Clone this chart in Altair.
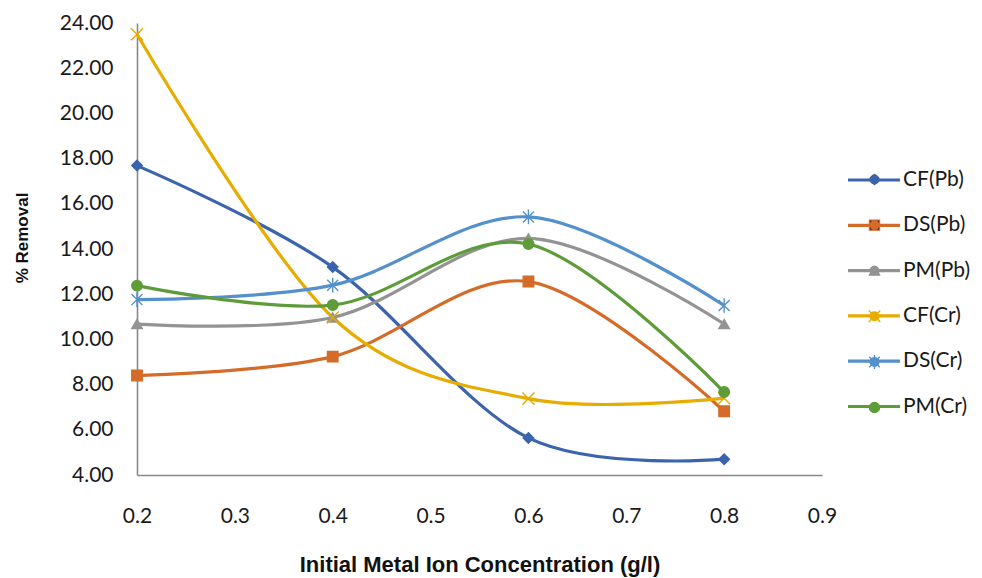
import altair as alt
import pandas as pd

x_vals = [0.2, 0.4, 0.6, 0.8]
series_names = ["CF(Pb)", "DS(Pb)", "PM(Pb)", "CF(Cr)", "DS(Cr)", "PM(Cr)"]
cf_pb = [17.69, 13.2, 5.64, 4.7]
ds_pb = [8.4, 9.24, 12.56, 6.82]
pm_pb = [10.68, 10.97, 14.47, 10.68]
cf_cr = [23.5, 10.97, 7.38, 7.4]
ds_cr = [11.76, 12.4, 15.42, 11.5]
pm_cr = [12.38, 11.52, 14.22, 7.67]
series_values = [cf_pb, ds_pb, pm_pb, cf_cr, ds_cr, pm_cr]

colors = ["#3B64AD", "#D46B29", "#939393", "#E6AC00", "#5390CC", "#5E9C3A"]
shapes = [
    "diamond",
    "square",
    "triangle-up",
    "M-1.15,-1.15L1.15,1.15M-1.15,1.15L1.15,-1.15",
    "M-1.05,-1.05L1.05,1.05M-1.05,1.05L1.05,-1.05M0,-1.4L0,1.4",
    "circle",
]
x_ticks = [0.2, 0.3, 0.4, 0.5, 0.6, 0.7, 0.8, 0.9]
y_ticks = [4, 6, 8, 10, 12, 14, 16, 18, 20, 22, 24]

rows = []
for name, vals in zip(series_names, series_values):
    for xv, yv in zip(x_vals, vals):
        rows.append({"series": name, "conc": xv, "removal": yv})
df = pd.DataFrame(rows)

FONT = "Lato"
TITLE_FONT = "Liberation Sans"

x_enc = alt.X(
    "conc:Q",
    scale=alt.Scale(domain=[0.2, 0.9], nice=False, zero=False),
    axis=alt.Axis(
        values=x_ticks, format=".1f", labelFlush=False,
        title="Initial Metal Ion Concentration (g/l)",
        titleY=89, titleBaseline="middle", titleFontSize=22,
        labelPadding=30,
    ),
)
y_enc = alt.Y(
    "removal:Q",
    scale=alt.Scale(domain=[4, 24], nice=False, zero=False),
    axis=alt.Axis(
        values=y_ticks, format=".2f", title="% Removal", labelFlush=False,
        titleX=-115, titleY=214.5, titleBaseline="middle", titleFontSize=17,
        labelPadding=24,
    ),
)

color_scale = alt.Scale(domain=series_names, range=colors)

lines = alt.Chart(df).mark_line(interpolate="cardinal", strokeWidth=3.2).encode(
    x=x_enc,
    y=y_enc,
    color=alt.Color(
        "series:N", scale=color_scale, sort=series_names,
        legend=alt.Legend(
            title=None, orient="none", legendX=709, legendY=129,
            symbolType="stroke", symbolSize=2704, symbolStrokeWidth=3.2,
            labelFont=FONT, labelFontSize=21, labelColor="#1a1a1a",
            labelOffset=1, rowPadding=7.3, padding=0,
        ),
    ),
)

leg_b = alt.Legend(
    title=None, orient="none", legendX=709, legendY=146,
    symbolOffset=18, labelExpr="' '", labelOpacity=0,
    labelFont=FONT, labelFontSize=21, labelOffset=1,
    rowPadding=23.6, padding=0, symbolStrokeWidth=1.4,
)

points = alt.Chart(df).mark_point(filled=True, size=110, strokeWidth=1.4, opacity=1).encode(
    x=x_enc,
    y=y_enc,
    color=alt.Color("series:N", scale=color_scale, sort=series_names, legend=leg_b),
    stroke=alt.Stroke("series:N", scale=color_scale, sort=series_names, legend=leg_b),
    shape=alt.Shape("series:N", scale=alt.Scale(domain=series_names, range=shapes),
                    sort=series_names, legend=leg_b),
)

chart = alt.layer(lines, points).resolve_scale(color="independent").properties(
    width=685, height=452,
    padding={"left": 137, "top": 23, "right": 160, "bottom": 103},
    autosize="none",
).configure_view(strokeWidth=0).configure_axis(
    grid=False, ticks=False,
    domainColor="#898989", domainWidth=1.6,
    labelFont=FONT, labelFontSize=21, labelColor="#1a1a1a",
    titleFont=TITLE_FONT, titleFontWeight="bold", titleColor="#111111",
)

chart.save("out.html", embed_options={"renderer": "svg", "actions": False})
